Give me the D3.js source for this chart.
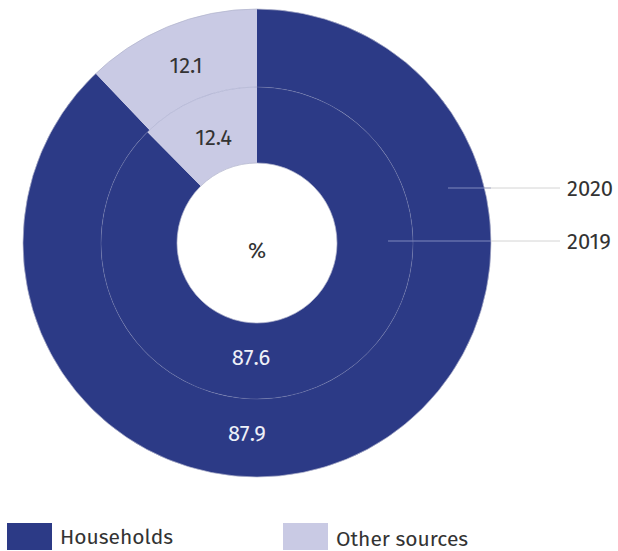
<!DOCTYPE html>
<html>
<head>
<style type="text/css">
body { margin: 0; background: #fff; }
text { font-family: "Fira Sans", "Noto Sans", sans-serif; }
</style>
<script src="https://d3js.org/d3.v7.min.js"></script>
</head>
<body>
<script type="text/javascript">
var width = 618;
var height = 551;

var categories = ["Households", "Other sources"];
var years = ["2019", "2020"];
var values2019 = [87.6, 12.4];
var values2020 = [87.9, 12.1];
var colours = ["#2c3a86", "#c9cae4"];

var cx = 257, cy = 243;
var rHole = 80, rMid = 156, rOuter = 234;

var svg = d3.select("body").append("svg").attr("width", width).attr("height", height);
var g = svg.append("g").attr("transform", "translate(" + cx + "," + cy + ")");

var colour = d3.scaleOrdinal().domain(categories).range(colours);
var pie = d3.pie().sort(null).value(function(d) { return d.v; });

function ring(vals, r0, r1) {
	var data = categories.map(function(c, i) { return { c: c, v: vals[i] }; });
	var arcs = pie(data);
	var arc = d3.arc().innerRadius(r0).outerRadius(r1);
	g.selectAll(null).data(arcs).enter().append("path")
		.attr("d", arc)
		.attr("fill", function(d) { return colour(d.data.c); });
	// labels: other sources at slice centroid, households near the bottom
	g.selectAll(null).data(arcs).enter().append("text")
		.attr("transform", function(d, i) {
			var r = (r0 + r1) / 2 - 4;
			var a = i == 0 ? Math.PI * 183 / 180 : (d.startAngle + d.endAngle) / 2;
			return "translate(" + (r * Math.sin(a)) + "," + (-r * Math.cos(a)) + ")";
		})
		.attr("text-anchor", "middle")
		.attr("dy", "0.35em")
		.attr("font-size", 22)
		.attr("fill", function(d, i) { return i == 0 ? "#eef0f8" : "#333"; })
		.text(function(d) { return d.data.v.toFixed(1); });
}

ring(values2019, rHole, rMid);
ring(values2020, rMid, rOuter);

// thin separators
g.append("circle").attr("r", rMid).attr("fill", "none").attr("stroke", "#8a8fb8").attr("stroke-width", 0.7).attr("opacity", 0.5);
g.append("circle").attr("r", rOuter).attr("fill", "none").attr("stroke", "#b0b3cc").attr("stroke-width", 0.7);
g.append("circle").attr("r", rHole).attr("fill", "none").attr("stroke", "#b0b3cc").attr("stroke-width", 0.7);

g.append("text").attr("y", 15).attr("text-anchor", "middle").attr("font-size", 22).attr("fill", "#333").text("%");

// year leader lines
var yearLines = [
	{ year: "2020", y: 188, x0: 448 },
	{ year: "2019", y: 241, x0: 388 }
];
yearLines.forEach(function(d) {
	svg.append("line").attr("x1", d.x0).attr("x2", cx + rOuter).attr("y1", d.y).attr("y2", d.y)
		.attr("stroke", "#7f88bd").attr("stroke-width", 1);
	svg.append("line").attr("x1", cx + Math.sqrt(rOuter * rOuter - (d.y - cy) * (d.y - cy))).attr("x2", 560)
		.attr("y1", d.y).attr("y2", d.y)
		.attr("stroke", "#d4d4d4").attr("stroke-width", 1);
	svg.append("text").attr("x", 567).attr("y", d.y + 8).attr("font-size", 22).attr("fill", "#333").text(d.year);
});

// legend
var legendX = [7, 283];
var legendY = [544, 546];
categories.forEach(function(c, i) {
	svg.append("rect").attr("x", legendX[i]).attr("y", 523).attr("width", 45).attr("height", 27).attr("fill", colour(c));
	svg.append("text").attr("x", legendX[i] + 53).attr("y", legendY[i]).attr("font-size", 21).attr("fill", "#333").text(c);
});
</script>
</body>
</html>
